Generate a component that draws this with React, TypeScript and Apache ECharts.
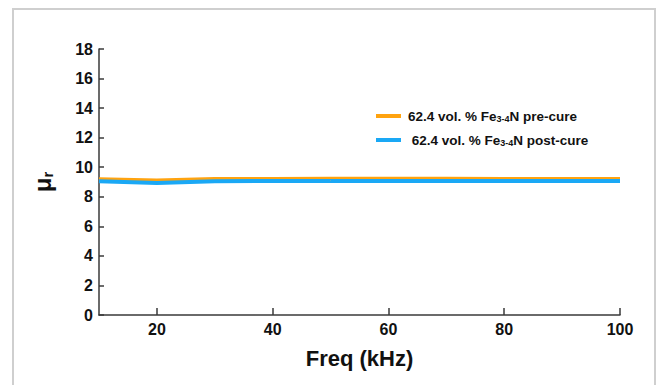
import React, { useEffect, useRef } from "react";
import * as echarts from "echarts";

const freq = [10, 20, 30, 40, 50, 60, 70, 80, 90, 100];
const preCure = [9.18, 9.1, 9.2, 9.2, 9.22, 9.22, 9.22, 9.2, 9.2, 9.2];
const postCure = [9.05, 8.93, 9.05, 9.07, 9.06, 9.06, 9.06, 9.06, 9.06, 9.06];
const xTicks = [20, 40, 60, 80, 100];
const seriesNames = ["62.4 vol. % Fe{sub|3-4}N pre-cure", " 62.4 vol. % Fe{sub|3-4}N post-cure"];

const FONT = "Liberation Sans, Arial, sans-serif";

export default function App() {
  const ref = useRef<HTMLDivElement>(null);
  useEffect(() => {
    if (!ref.current) return;
    const chart = echarts.init(ref.current, null, { renderer: "svg" });
    const axisLineStyle = { color: "#3a3a3a", width: 1.5 };
    chart.setOption({
      animation: false,
      backgroundColor: "#fff",
      textStyle: { fontFamily: FONT },
      graphic: [
        {
          type: "rect",
          shape: { x: 13, y: 9, width: 642, height: 400 },
          style: { fill: "none", stroke: "#cfcfcf", lineWidth: 2 },
          silent: true,
        },
      ],
      grid: { left: 99, right: 36, top: 49, bottom: 70 },
      legend: {
        orient: "vertical",
        left: 376,
        top: 109,
        padding: 0,
        itemWidth: 25,
        itemHeight: 4,
        itemGap: 10,
        icon: "rect",
        formatter: (name: string) => name,
        textStyle: {
          fontFamily: FONT,
          fontSize: 13.5,
          fontWeight: "bold",
          color: "#111",
          lineHeight: 14,
          padding: [0, 0, 0, 2],
          rich: {
            sub: {
              fontFamily: FONT,
              fontSize: 9,
              fontWeight: "bold",
              color: "#111",
              lineHeight: 9,
              verticalAlign: "bottom",
            },
          },
        },
      },
      xAxis: {
        type: "value",
        min: 10,
        max: 100,
        name: "Freq (kHz)",
        nameLocation: "middle",
        nameGap: 32,
        nameTextStyle: { fontFamily: FONT, fontSize: 22, fontWeight: "bold", color: "#111" },
        axisLine: { show: true, lineStyle: axisLineStyle },
        axisTick: { show: true, inside: true, length: 7, lineStyle: axisLineStyle, customValues: xTicks },
        axisLabel: {
          customValues: xTicks,
          margin: 6,
          fontFamily: FONT,
          fontSize: 16,
          fontWeight: "bold",
          color: "#111",
        },
        splitLine: { show: false },
      },
      yAxis: {
        type: "value",
        min: 0,
        max: 18,
        interval: 2,
        name: "μ{sub|r}",
        nameLocation: "middle",
        nameGap: 44,
        nameRotate: 90,
        nameTextStyle: {
          fontFamily: FONT,
          fontSize: 24,
          fontWeight: "bold",
          color: "#111",
          lineHeight: 26,
          rich: {
            sub: {
              fontFamily: FONT,
              fontSize: 15,
              fontWeight: "bold",
              color: "#111",
              lineHeight: 15,
              verticalAlign: "bottom",
            },
          },
        },
        axisLine: { show: true, lineStyle: axisLineStyle },
        axisTick: { show: true, inside: true, length: 5, lineStyle: axisLineStyle },
        axisLabel: { margin: 6, fontFamily: FONT, fontSize: 16, fontWeight: "bold", color: "#111" },
        splitLine: { show: false },
      },
      series: [
        {
          name: seriesNames[0],
          type: "line",
          data: freq.map((f, i) => [f, preCure[i]]),
          showSymbol: false,
          symbol: "none",
          lineStyle: { color: "#FFA30F", width: 4 },
          itemStyle: { color: "#FFA30F" },
        },
        {
          name: seriesNames[1],
          type: "line",
          data: freq.map((f, i) => [f, postCure[i]]),
          showSymbol: false,
          symbol: "none",
          lineStyle: { color: "#1AA8F5", width: 4 },
          itemStyle: { color: "#1AA8F5" },
        },
      ],
    });
    return () => chart.dispose();
  }, []);
  return (
    <div
      ref={ref}
      style={{ position: "fixed", left: 0, top: 0, width: 656, height: 385, background: "#fff" }}
    />
  );
}
